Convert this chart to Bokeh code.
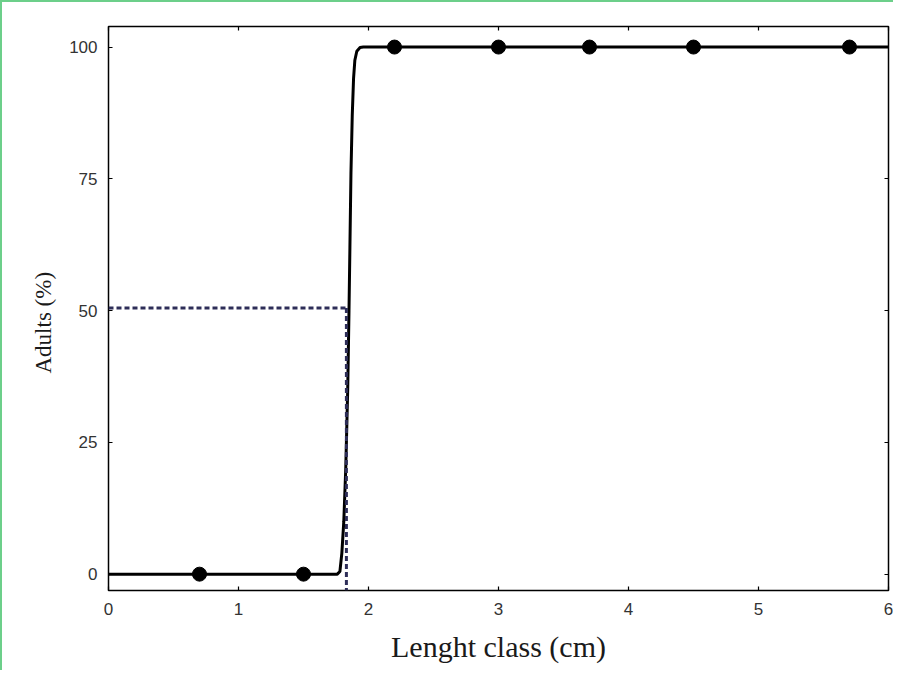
from bokeh.plotting import figure
from bokeh.models import Range1d, LinearAxis, FixedTicker, Title
from bokeh.embed import file_html
from bokeh.resources import INLINE

# observed data points
length_class = [0.7, 1.5, 2.2, 3.0, 3.7, 4.5, 5.7]
adults_pct = [0, 0, 100, 100, 100, 100, 100]

# fitted curve
curve_x = [0, 1.76, 1.78, 1.795, 1.81, 1.825, 1.84, 1.85, 1.857, 1.865, 1.875, 1.885, 1.895, 1.91, 1.935, 1.96, 6.0]
curve_y = [0, 0, 0.5, 4, 10, 20, 35, 50, 62, 76, 87, 94, 97.5, 99.2, 99.9, 100, 100]

# L50 reference
l50_x = 1.83
l50_y = 50.5

x_ticks = [0, 1, 2, 3, 4, 5, 6]
y_ticks = [0, 25, 50, 75, 100]
x_min, x_max = 0, 6
y_min, y_max = -3.1, 103.9

x_title = "Lenght class (cm)"
y_title = "Adults (%)"

p = figure(frame_width=780, frame_height=564, output_backend="svg", toolbar_location=None,
           x_range=Range1d(x_min, x_max), y_range=Range1d(y_min, y_max),
           x_axis_label=x_title)
p.min_border_left = 106
p.min_border_top = 24
p.min_border_right = 5
p.min_border_bottom = 80
p.background_fill_color = "white"
p.border_fill_color = "white"
p.outline_line_color = "black"
p.outline_line_width = 1.5
p.grid.visible = False
p.styles = {"border-left": "2px solid #6ccf8a", "border-top": "2px solid #6ccf8a"}

def style_axis(ax, ticks, labels=True):
    ax.ticker = FixedTicker(ticks=ticks)
    ax.axis_line_color = None
    ax.major_tick_in = 4
    ax.major_tick_out = 0
    ax.major_tick_line_color = "black"
    ax.major_tick_line_width = 1.2
    ax.minor_tick_line_color = None
    ax.major_label_text_font = "Liberation Sans"
    ax.major_label_text_font_size = "17px"
    ax.major_label_text_color = "#333333"
    ax.axis_label_text_font = "Liberation Serif"
    ax.axis_label_text_font_style = "normal"
    ax.axis_label_text_color = "#1a1a1a"
    if not labels:
        ax.major_label_text_alpha = 0
        ax.major_label_text_font_size = "1px"

style_axis(p.xaxis[0], x_ticks)
style_axis(p.yaxis[0], y_ticks)
p.xaxis[0].axis_label_text_font_size = "30px"
p.xaxis[0].major_label_standoff = 12
p.yaxis[0].major_label_standoff = 11
p.xaxis[0].axis_label_standoff = 12

top_ax = LinearAxis()
style_axis(top_ax, x_ticks, labels=False)
p.add_layout(top_ax, "above")
right_ax = LinearAxis()
style_axis(right_ax, y_ticks, labels=False)
p.add_layout(right_ax, "right")

p.line(curve_x, curve_y, line_color="black", line_width=3)
p.scatter(length_class, adults_pct, size=14, color="black")

p.line([x_min, l50_x], [l50_y, l50_y], line_color="#2e2e58", line_width=3, line_dash="5 3")
p.line([l50_x, l50_x], [l50_y, y_min], line_color="#2e2e58", line_width=3, line_dash="5 3")

# y-axis title, shifted slightly below the frame centre as in the reference
p.add_layout(Title(text=y_title, align="left", offset=217, standoff=21,
                   text_font="Liberation Serif", text_font_size="23px",
                   text_font_style="normal", text_color="#1a1a1a"), "left")

open("out.html", "w").write(file_html(p, INLINE))
